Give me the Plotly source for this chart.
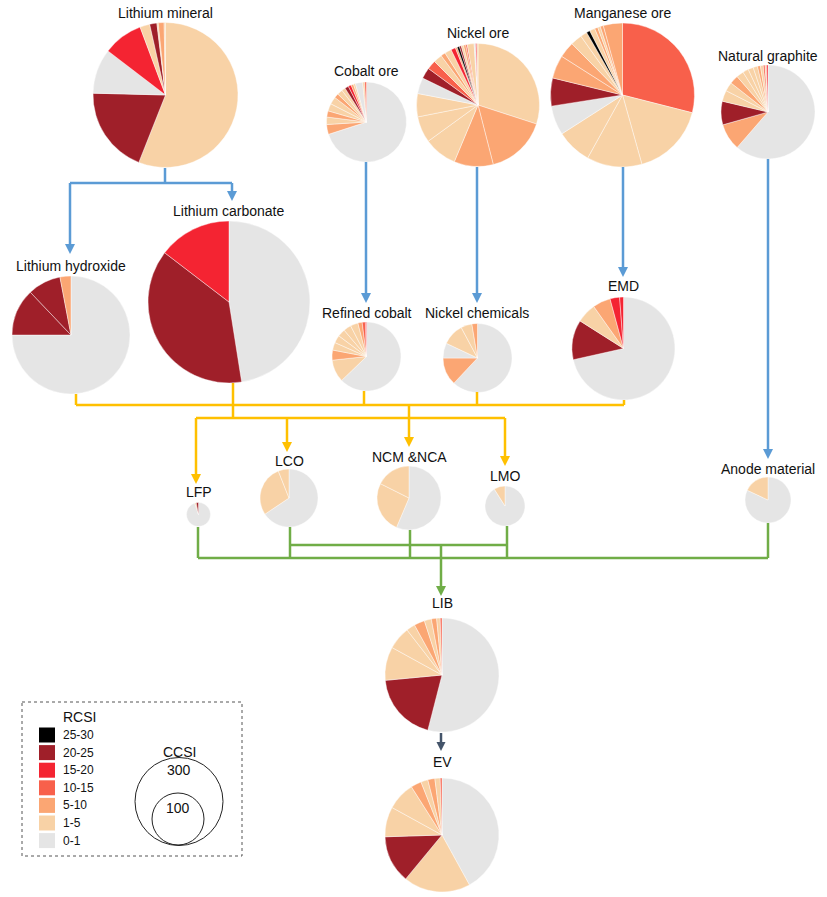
import plotly.graph_objects as go

W, H = 827, 897

# ---------------- data ----------------
rcsi_classes = ['25-30', '20-25', '15-20', '10-15', '5-10', '1-5', '0-1']
rcsi_colors = ['#000000', '#9F1F29', '#F42432', '#F8604B', '#FBA673', '#F8D2A6', '#E5E5E5']

lithium_mineral_vals = [56.0, 19.4, 10.0, 8.9, 2.2, 1.6, 0.3, 1.3, 0.3]
lithium_mineral_cls = ['1-5', '20-25', '0-1', '15-20', '1-5', '20-25', '1-5', '5-10', '1-5']

cobalt_ore_vals = [70, 4, 3, 2.5, 3, 3, 1.8, 2.2, 1.5, 1.5, 1.2, 1, 0.8, 3, 0.8, 0.7]
cobalt_ore_cls = ['0-1', '5-10', '1-5', '5-10', '1-5', '1-5', '5-10', '1-5', '1-5', '20-25',
                  '15-20', '5-10', '1-5', '0-1', '1-5', '10-15']

nickel_ore_vals = [30, 16, 10.3, 8.7, 6.9, 6.1, 4.2, 2.9, 2.4, 2.3, 1.2, 1.8, 1.2, 0.5, 0.6,
                   0.5, 0.6, 0.6, 0.4, 1.8, 0.4, 0.3, 0.3]
nickel_ore_cls = ['1-5', '5-10', '5-10', '1-5', '1-5', '1-5', '0-1', '20-25', '10-15', '1-5',
                  '5-10', '1-5', '15-20', '5-10', '25-30', '20-25', '1-5', '5-10', '10-15',
                  '1-5', '0-1', '15-20', '1-5']

manganese_ore_vals = [29, 16.7, 12.4, 7.9, 6.6, 6.3, 5.2, 3.6, 2.6, 1.5, 0.8, 1.2, 0.7, 0.6, 0.7, 4.3]
manganese_ore_cls = ['10-15', '1-5', '1-5', '1-5', '0-1', '20-25', '5-10', '5-10', '1-5', '1-5',
                     '25-30', '1-5', '5-10', '1-5', '5-10', '5-10']

natural_graphite_vals = [61.4, 9.2, 8.1, 3.8, 3.1, 3.0, 2.5, 2.0, 1.8, 1.5, 1.0, 1.0, 0.6, 0.5, 0.5]
natural_graphite_cls = ['0-1', '5-10', '20-25', '1-5', '1-5', '5-10', '1-5', '1-5', '1-5', '1-5',
                        '5-10', '1-5', '10-15', '1-5', '15-20']

lithium_hydroxide_vals = [75, 12.9, 9.1, 3.0]
lithium_hydroxide_cls = ['0-1', '20-25', '20-25', '5-10']

lithium_carbonate_vals = [47.5, 37.9, 14.6]
lithium_carbonate_cls = ['0-1', '20-25', '15-20']

refined_cobalt_vals = [62.8, 10.5, 4.7, 3.6, 3.6, 3.6, 3.6, 3.6, 2.0, 1.5, 0.5]
refined_cobalt_cls = ['0-1', '1-5', '5-10', '1-5', '1-5', '1-5', '1-5', '1-5', '5-10', '10-15', '15-20']

nickel_chemicals_vals = [62, 13, 7, 10.2, 5.2, 2.6]
nickel_chemicals_cls = ['0-1', '5-10', '0-1', '1-5', '1-5', '5-10']

emd_vals = [71.5, 12.5, 6.2, 5.6, 3.0, 1.2]
emd_cls = ['0-1', '20-25', '1-5', '5-10', '15-20', '15-20']

lfp_vals = [95, 2, 3]
lfp_cls = ['0-1', '1-5', '20-25']

lco_vals = [65.6, 28.4, 6.0]
lco_cls = ['0-1', '1-5', '1-5']

ncm_vals = [56.4, 26.0, 17.6]
ncm_cls = ['0-1', '1-5', '1-5']

lmo_vals = [91, 9]
lmo_cls = ['0-1', '1-5']

anode_vals = [82, 18]
anode_cls = ['0-1', '1-5']

lib_vals = [54, 19.5, 9.5, 6.5, 2.5, 3, 2, 1.5, 1, 0.5]
lib_cls = ['0-1', '20-25', '1-5', '1-5', '1-5', '5-10', '1-5', '5-10', '1-5', '10-15']

ev_vals = [42, 19, 13.5, 8.5, 8, 3, 2, 2, 1.5, 0.5]
ev_cls = ['0-1', '1-5', '20-25', '1-5', '1-5', '5-10', '1-5', '5-10', '1-5', '10-15']

# ---------------- layout of nodes: name, values, classes, center x, center y, radius, label y ----
nodes = [
    ('Lithium mineral', lithium_mineral_vals, lithium_mineral_cls, 165.5, 95, 72.5, 13),
    ('Cobalt ore', cobalt_ore_vals, cobalt_ore_cls, 366.5, 122, 40, 71),
    ('Nickel ore', nickel_ore_vals, nickel_ore_cls, 478, 105, 61.5, 33),
    ('Manganese ore', manganese_ore_vals, manganese_ore_cls, 622.5, 95, 72, 13),
    ('Natural graphite', natural_graphite_vals, natural_graphite_cls, 768, 112, 47, 56),
    ('Lithium hydroxide', lithium_hydroxide_vals, lithium_hydroxide_cls, 71, 335, 59, 266),
    ('Lithium carbonate', lithium_carbonate_vals, lithium_carbonate_cls, 229, 302, 81, 211),
    ('Refined cobalt', refined_cobalt_vals, refined_cobalt_cls, 366.5, 356.5, 34.5, 313),
    ('Nickel chemicals', nickel_chemicals_vals, nickel_chemicals_cls, 477.5, 358, 34.5, 313),
    ('EMD', emd_vals, emd_cls, 623.5, 348.5, 51.5, 286),
    ('LFP', lfp_vals, lfp_cls, 198.5, 514.5, 12, 492),
    ('LCO', lco_vals, lco_cls, 289, 498, 29, 461),
    ('NCM &NCA', ncm_vals, ncm_cls, 409, 498, 32, 457),
    ('LMO', lmo_vals, lmo_cls, 505, 506, 20, 476),
    ('Anode material', anode_vals, anode_cls, 768, 500, 23, 469),
    ('LIB', lib_vals, lib_cls, 442, 675, 57, 603),
    ('EV', ev_vals, ev_cls, 442, 835, 57, 762),
]

cmap = dict(zip(rcsi_classes, rcsi_colors))


def px(x):
    return x / W


def py(y):
    return 1 - y / H


fig = go.Figure()
annotations = []
shapes = []

FONT = 'Liberation Sans, Arial, sans-serif'

for name, vals, cls, cx, cy, r, ly in nodes:
    fig.add_trace(go.Pie(
        values=vals,
        labels=[f'{name} {i}' for i in range(len(vals))],
        marker=dict(colors=[cmap[c] for c in cls], line=dict(color='rgba(255,255,255,0.7)', width=0.6)),
        sort=False, direction='clockwise', rotation=0,
        textinfo='none', hoverinfo='label+percent',
        domain=dict(x=[px(cx - r), px(cx + r)], y=[py(cy + r), py(cy - r)]),
        showlegend=False,
    ))
    annotations.append(dict(text=name, x=px(cx), y=py(ly), xref='paper', yref='paper',
                            showarrow=False, xanchor='center', yanchor='middle',
                            font=dict(size=14, color='#111', family=FONT)))

BLUE = '#5B9BD5'
YEL = '#FFC000'
GRN = '#70AD47'
SLATE = '#44546A'


def seg(x0, y0, x1, y1, color, w=2.5):
    shapes.append(dict(type='line', xref='paper', yref='paper', x0=px(x0), y0=py(y0),
                       x1=px(x1), y1=py(y1), line=dict(color=color, width=w)))


def head(x, y, color, size=10):
    # downward pointing triangle with tip at (x, y)
    p = (f'M {px(x)},{py(y)} L {px(x - size / 2)},{py(y - size)} '
         f'L {px(x + size / 2)},{py(y - size)} Z')
    shapes.append(dict(type='path', xref='paper', yref='paper', path=p,
                       fillcolor=color, line=dict(color=color, width=0)))


def arrow(x, y0, y1, color, size=10, w=2.5):
    seg(x, y0, x, y1 - size + 1, color, w)
    head(x, y1, color, size)


# blue arrows
seg(165, 168, 165, 183, BLUE)
seg(70, 183, 232, 183, BLUE)
arrow(70, 183, 254, BLUE)
arrow(232, 183, 201, BLUE)
arrow(366, 162, 303, BLUE)
arrow(477, 167, 303, BLUE)
arrow(623, 167, 277, BLUE)
arrow(768, 159, 459, BLUE)

# yellow connectors
for x, y in [(76, 394), (233, 383), (364, 391), (477, 392), (624, 400)]:
    seg(x, y, x, 405, YEL)
seg(76, 405, 624, 405, YEL)
seg(233, 405, 233, 418, YEL)
seg(196, 418, 505, 418, YEL)
arrow(196, 418, 484, YEL)
arrow(287, 418, 452, YEL)
arrow(409, 405, 447, YEL)
arrow(505, 418, 466, YEL)

# green connectors
for x, y in [(198, 527), (290, 527), (410, 530), (507, 526), (768, 523)]:
    seg(x, y, x, 558, GRN)
seg(198, 558, 768, 558, GRN)
seg(290, 545, 507, 545, GRN)
arrow(441, 545, 596, GRN)

# LIB -> EV
arrow(441, 733, 751, SLATE, size=9)

# legend box
shapes.append(dict(type='rect', xref='paper', yref='paper', x0=px(22), y0=py(702), x1=px(242),
                   y1=py(856), line=dict(color='#555', width=1, dash='dot')))
annotations.append(dict(text='RCSI', x=px(61), y=py(717), xref='paper', yref='paper', showarrow=False,
                        xanchor='left', yanchor='middle', font=dict(size=14, color='#111', family=FONT)))
for i, (c, col) in enumerate(zip(rcsi_classes, rcsi_colors)):
    yc = 735 + i * 17.6
    shapes.append(dict(type='rect', xref='paper', yref='paper', x0=px(39), x1=px(55),
                       y0=py(yc - 7.5), y1=py(yc + 7.5), fillcolor=col, line=dict(width=0)))
    annotations.append(dict(text=c, x=px(61), y=py(yc), xref='paper', yref='paper', showarrow=False,
                            xanchor='left', yanchor='middle',
                            font=dict(size=12, color='#111', family=FONT)))

annotations.append(dict(text='CCSI', x=px(179), y=py(752), xref='paper', yref='paper', showarrow=False,
                        xanchor='center', yanchor='middle', font=dict(size=14, color='#111', family=FONT)))
for (cx, cy, r, lab, laby) in [(179, 801.5, 44, '300', 770), (178, 819, 26, '100', 808)]:
    shapes.append(dict(type='circle', xref='paper', yref='paper', x0=px(cx - r), x1=px(cx + r),
                       y0=py(cy + r), y1=py(cy - r), line=dict(color='#222', width=1)))
    annotations.append(dict(text=lab, x=px(cx), y=py(laby), xref='paper', yref='paper', showarrow=False,
                            xanchor='center', yanchor='middle',
                            font=dict(size=14, color='#111', family=FONT)))

fig.update_layout(width=W, height=H, margin=dict(l=0, r=0, t=0, b=0),
                  paper_bgcolor='white', plot_bgcolor='white',
                  shapes=shapes, annotations=annotations, showlegend=False)
fig.write_html('out.html', config={'displayModeBar': False},
               post_script="document.body.style.margin='0px';document.body.style.padding='0px';")
